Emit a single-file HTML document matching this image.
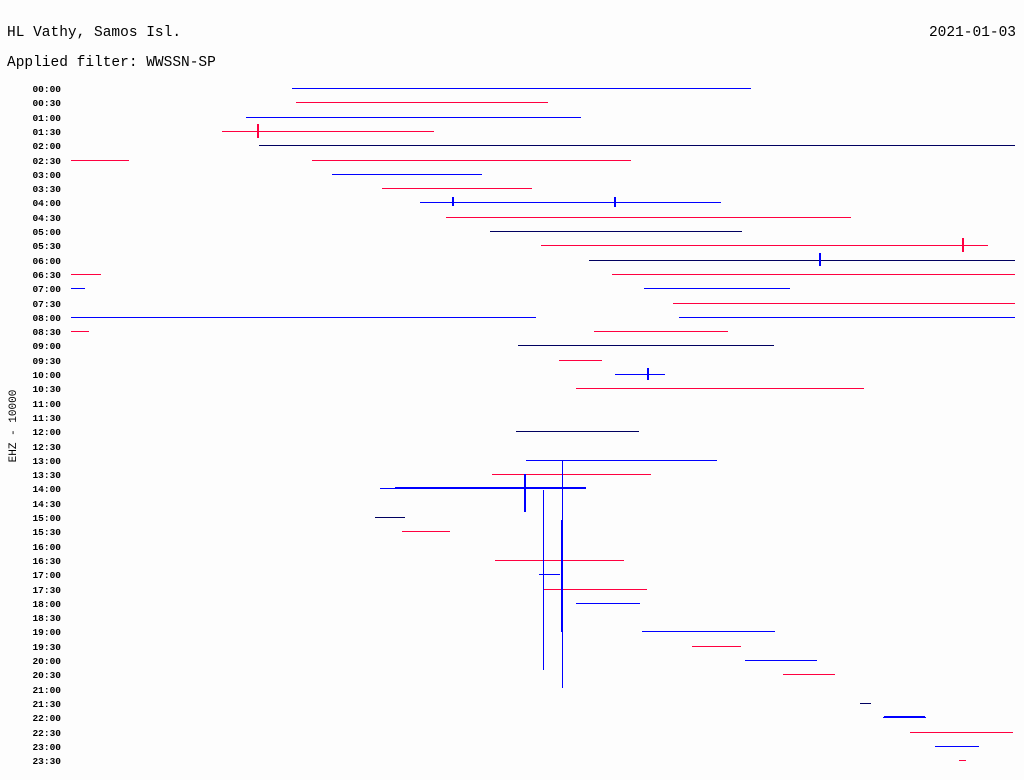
<!DOCTYPE html>
<html><head><style>body{margin:0;background:#fdfdfd}svg{display:block}</style></head><body>
<svg width="1024" height="780" xmlns="http://www.w3.org/2000/svg" font-family="Liberation Mono, monospace">
<rect width="1024" height="780" fill="#fdfdfd"/>
<text x="7" y="36" font-size="14.5">HL Vathy, Samos Isl.</text>
<text x="1016" y="36" font-size="14.5" text-anchor="end">2021-01-03</text>
<text x="7" y="66" font-size="14.5">Applied filter: WWSSN-SP</text>
<text transform="translate(16,426) rotate(-90)" font-size="11" text-anchor="middle">EHZ - 10000</text>
<g font-size="9.5" text-anchor="end" id="labels" font-weight="bold"></g>
<g id="tr" stroke-width="1" shape-rendering="crispEdges"></g>
<script>
var L=document.getElementById('labels'),T=document.getElementById('tr'),ns='http://www.w3.org/2000/svg';
function Y(i){return Math.round(88+i*14.3);}
for(var i=0;i<48;i++){var t=document.createElementNS(ns,'text');t.setAttribute('x',61);t.setAttribute('y',Y(i)+4);
var h=Math.floor(i/2);t.textContent=(h<10?'0':'')+h+':'+(i%2?'30':'00');L.appendChild(t);}
var S={0:[[292,751]],1:[[296,548]],2:[[246,581]],3:[[222,434]],4:[[259,1015]],5:[[71,129],[312,631]],6:[[332,482]],7:[[382,532]],8:[[420,721]],9:[[446,851]],10:[[490,742]],11:[[541,988]],12:[[589,1015]],13:[[71,101],[612,1015]],14:[[71,85],[644,790]],15:[[673,1015]],16:[[71,536],[679,1015]],17:[[71,89],[594,728]],18:[[518,774]],19:[[559,602]],20:[[615,665]],21:[[576,864]],24:[[516,639]],26:[[526,717]],27:[[492,651]],28:[[380,586]],30:[[375,405]],31:[[402,450]],33:[[495,624]],34:[[539,560]],35:[[543,647]],36:[[576,640]],38:[[642,775]],39:[[692,741]],40:[[745,817]],41:[[783,835]],43:[[860,871]],44:[[883,926]],45:[[910,1013]],46:[[935,979]],47:[[959,966]]};
function ln(x1,y1,x2,y2,c,w){var l=document.createElementNS(ns,'line');l.setAttribute('x1',x1);l.setAttribute('y1',y1);l.setAttribute('x2',x2);l.setAttribute('y2',y2);l.setAttribute('stroke',c);l.setAttribute('stroke-width',w||1);T.appendChild(l);}
for(var k in S){var c=(k%2)?'#ff0040':'#0000ff';if(k==4||k==10||k==12||k==18||k==24||k==30||k==43)c='#000060';S[k].forEach(function(s){ln(s[0],Y(+k)+.5,s[1],Y(+k)+.5,c);});}
ln(562.5,460,562.5,688,'#0000ff');ln(543.5,490,543.5,670,'#0000ff');ln(525,474,525,512,'#0000ff',2);ln(562,520,562,632,'#0000ff',2);
ln(258,124,258,138,'#ff0040',2);ln(453,197,453,206,'#0000ff',2);ln(615,197,615,207,'#0000ff',2);
ln(963,238,963,252,'#ff0040',2);ln(820,253,820,266,'#0000ff',2);ln(648,368,648,380,'#0000ff',2);
ln(395,488,586,488,'#0000ff',2);ln(884,717,925,717,'#0000ff',2);
</script>
</svg></body></html>
